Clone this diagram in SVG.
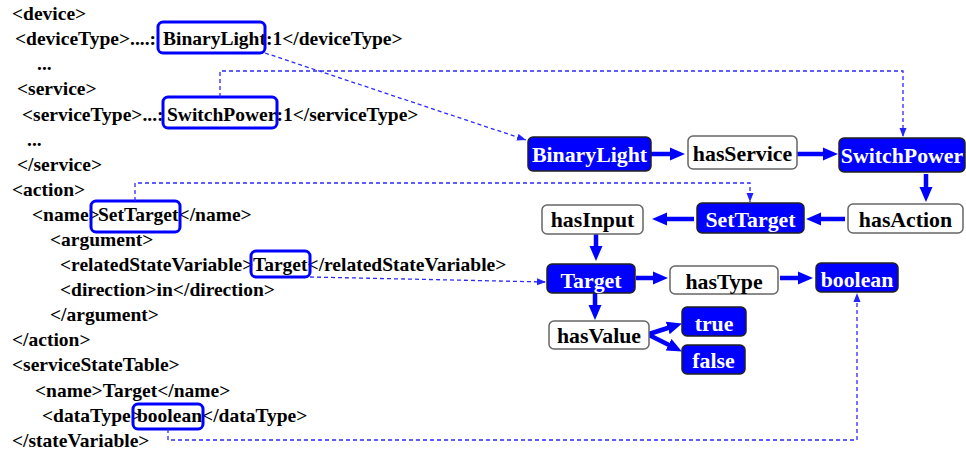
<svg xmlns="http://www.w3.org/2000/svg" width="966" height="454" viewBox="0 0 966 454">
<defs>
<marker id="ah" markerUnits="userSpaceOnUse" markerWidth="16" markerHeight="14" viewBox="0 0 16 14" refX="5" refY="7" orient="auto"><path d="M0,0.5 L15,7 L0,13.5 z" fill="#0000ff"/></marker>
<marker id="dh" markerUnits="userSpaceOnUse" markerWidth="10" markerHeight="8" viewBox="0 0 10 8" refX="9" refY="4" orient="auto"><path d="M0,0.5 L9,4 L0,7.5 z" fill="#2222ff"/></marker>
</defs>
<style>
.x{font-family:"Liberation Serif","Times New Roman",serif;font-weight:bold;font-size:19.5px;fill:#000}
.n text{font-family:"Liberation Serif","Times New Roman",serif;font-weight:bold;font-size:21.8px;text-anchor:middle}
.b rect{fill:#0000ff;stroke:#222;stroke-width:1.5}
.b text{fill:#fff}
.w rect{fill:#fff;stroke:#666;stroke-width:1.5}
.w text{fill:#000}
.hl{fill:none;stroke:#0000ff;stroke-width:3}
.s{fill:none;stroke:#0000ff;stroke-width:4.5;marker-end:url(#ah)}
.d{fill:none;stroke:#2a2aff;stroke-width:1.3;stroke-dasharray:4 3;marker-end:url(#dh)}
</style>
<rect width="966" height="454" fill="#fff"/>
<g id="xml-listing">
<text class="x" x="12" y="20">&lt;device&gt;</text>
<text class="x" x="15" y="45">&lt;deviceType&gt;....:<tspan x="163">BinaryLight</tspan>:1&lt;/deviceType&gt;</text>
<text class="x" x="37" y="70">...</text>
<text class="x" x="17" y="95">&lt;service&gt;</text>
<text class="x" x="22" y="121">&lt;serviceType&gt;...:<tspan x="167">SwitchPower</tspan>:1&lt;/serviceType&gt;</text>
<text class="x" x="27" y="146">...</text>
<text class="x" x="17" y="171">&lt;/service&gt;</text>
<text class="x" x="12" y="196">&lt;action&gt;</text>
<text class="x" x="32" y="221">&lt;name&gt;<tspan x="98">SetTarget</tspan>&lt;/name&gt;</text>
<text class="x" x="50" y="246">&lt;argument&gt;</text>
<text class="x" x="60" y="271">&lt;relatedStateVariable&gt;<tspan x="253">Target</tspan>&lt;/relatedStateVariable&gt;</text>
<text class="x" x="60" y="296">&lt;direction&gt;in&lt;/direction&gt;</text>
<text class="x" x="50" y="321">&lt;/argument&gt;</text>
<text class="x" x="12" y="346">&lt;/action&gt;</text>
<text class="x" x="12" y="371">&lt;serviceStateTable&gt;</text>
<text class="x" x="35" y="397">&lt;name&gt;Target&lt;/name&gt;</text>
<text class="x" x="42" y="422">&lt;dataType&gt;<tspan x="137">boolean</tspan>&lt;/dataType&gt;</text>
<text class="x" x="12" y="447">&lt;/stateVariable&gt;</text>
</g>
<g id="highlights">
<rect class="hl" x="158" y="22" width="107" height="31" rx="5"/>
<rect class="hl" x="163" y="97" width="114" height="31" rx="5"/>
<rect class="hl" x="91" y="201" width="89" height="31" rx="5"/>
<rect class="hl" x="251" y="251" width="59" height="26" rx="5"/>
<rect class="hl" x="133" y="404" width="70" height="25" rx="5"/>
</g>
<g id="connectors">
<path class="s" d="M651,154 H675"/>
<path class="s" d="M797,154 H828"/>
<path class="s" d="M926,174 V192"/>
<path class="s" d="M845,219 H816"/>
<path class="s" d="M694,219 H662"/>
<path class="s" d="M596,234 V251"/>
<path class="s" d="M636,278 H658"/>
<path class="s" d="M780,278 H803"/>
<path class="s" d="M595,293 V310"/>
<path class="s" d="M649,334 L672.5,326.5"/>
<path class="s" d="M649,335 L673,347"/>
<path class="d" d="M265,53 L526,140"/>
<path class="d" d="M220,97 V71 H903 V137"/>
<path class="d" d="M135,201 V183 H750 V202"/>
<path class="d" d="M310,277 L546,282"/>
<path class="d" d="M168,429 V440 H857 V293"/>
</g>
<g id="node-binarylight" class="n b"><rect x="528" y="137" width="123" height="34" rx="5"/><text x="589.5" y="161.5">BinaryLight</text></g>
<g id="node-hasservice" class="n w"><rect x="688" y="136" width="109" height="33" rx="5"/><text x="742.5" y="161">hasService</text></g>
<g id="node-switchpower" class="n b"><rect x="839" y="138" width="126" height="34" rx="5"/><text x="902" y="163">SwitchPower</text></g>
<g id="node-hasaction" class="n w"><rect x="848" y="204" width="115" height="29" rx="5"/><text x="905.5" y="226.5">hasAction</text></g>
<g id="node-settarget" class="n b"><rect x="697" y="203" width="107" height="30" rx="5"/><text x="750.5" y="226.5">SetTarget</text></g>
<g id="node-hasinput" class="n w"><rect x="542" y="205" width="101" height="29" rx="5"/><text x="592.5" y="226.5">hasInput</text></g>
<g id="node-target" class="n b"><rect x="547" y="264" width="88" height="29" rx="5"/><text x="591" y="288">Target</text></g>
<g id="node-hastype" class="n w"><rect x="670" y="266" width="108" height="28" rx="5"/><text x="724" y="289">hasType</text></g>
<g id="node-boolean" class="n b"><rect x="816" y="263" width="82" height="29" rx="5"/><text x="857" y="286.5">boolean</text></g>
<g id="node-hasvalue" class="n w"><rect x="549" y="321" width="100" height="28" rx="5"/><text x="599" y="343">hasValue</text></g>
<g id="node-true" class="n b"><rect x="682" y="307" width="64" height="29" rx="5"/><text x="714" y="330.5">true</text></g>
<g id="node-false" class="n b"><rect x="682" y="345" width="63" height="29" rx="5"/><text x="713.5" y="367.5">false</text></g>
</svg>
